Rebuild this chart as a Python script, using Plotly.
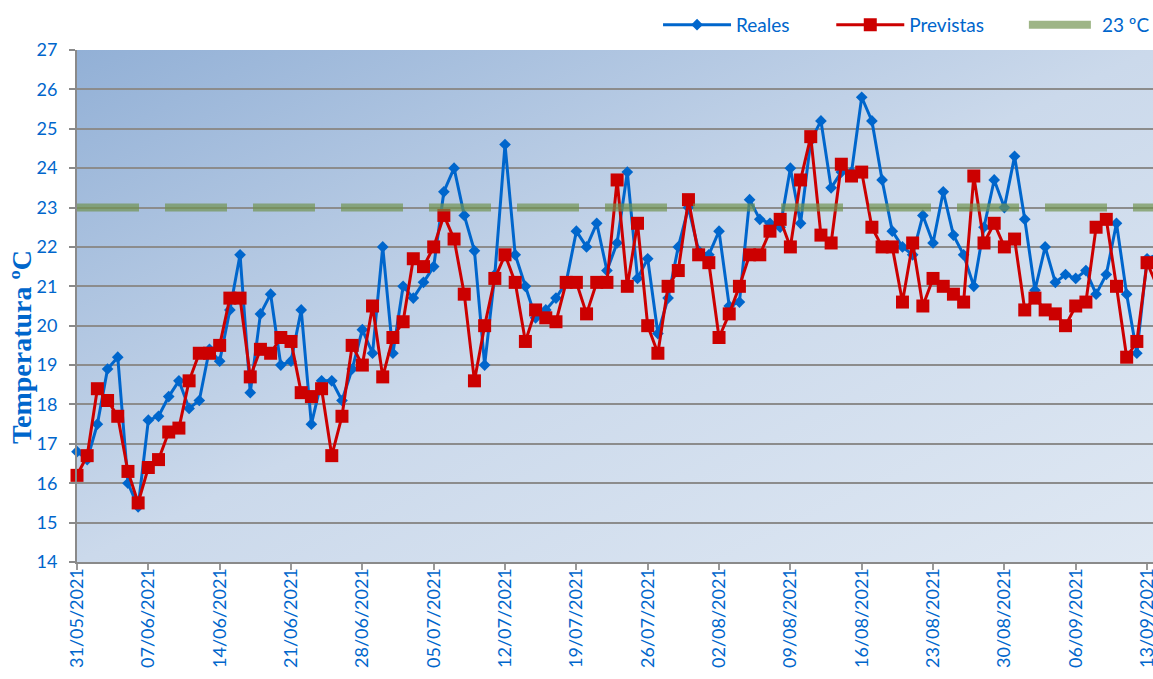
import base64
import pandas as pd
import plotly.graph_objects as go

# ---------------- data ----------------
start_date = "2021-05-31"
reales = [16.8, 16.6, 17.5, 18.9, 19.2, 16.0, 15.4, 17.6, 17.7, 18.2,
          18.6, 17.9, 18.1, 19.4, 19.1, 20.4, 21.8, 18.3, 20.3, 20.8,
          19.0, 19.1, 20.4, 17.5, 18.6, 18.6, 18.1, 18.9, 19.9, 19.3,
          22.0, 19.3, 21.0, 20.7, 21.1, 21.5, 23.4, 24.0, 22.8, 21.9,
          19.0, 21.3, 24.6, 21.8, 21.0, 20.2, 20.4, 20.7, 21.1, 22.4,
          22.0, 22.6, 21.4, 22.1, 23.9, 21.2, 21.7, 19.8, 20.7, 22.0,
          23.0, 21.9, 21.8, 22.4, 20.5, 20.6, 23.2, 22.7, 22.6, 22.5,
          24.0, 22.6, 24.7, 25.2, 23.5, 23.9, 23.9, 25.8, 25.2, 23.7,
          22.4, 22.0, 21.8, 22.8, 22.1, 23.4, 22.3, 21.8, 21.0, 22.5,
          23.7, 23.0, 24.3, 22.7, 20.9, 22.0, 21.1, 21.3, 21.2, 21.4,
          20.8, 21.3, 22.6, 20.8, 19.3, 21.7, 21.8]
previstas = [16.2, 16.7, 18.4, 18.1, 17.7, 16.3, 15.5, 16.4, 16.6, 17.3,
             17.4, 18.6, 19.3, 19.3, 19.5, 20.7, 20.7, 18.7, 19.4, 19.3,
             19.7, 19.6, 18.3, 18.2, 18.4, 16.7, 17.7, 19.5, 19.0, 20.5,
             18.7, 19.7, 20.1, 21.7, 21.5, 22.0, 22.8, 22.2, 20.8, 18.6,
             20.0, 21.2, 21.8, 21.1, 19.6, 20.4, 20.2, 20.1, 21.1, 21.1,
             20.3, 21.1, 21.1, 23.7, 21.0, 22.6, 20.0, 19.3, 21.0, 21.4,
             23.2, 21.8, 21.6, 19.7, 20.3, 21.0, 21.8, 21.8, 22.4, 22.7,
             22.0, 23.7, 24.8, 22.3, 22.1, 24.1, 23.8, 23.9, 22.5, 22.0,
             22.0, 20.6, 22.1, 20.5, 21.2, 21.0, 20.8, 20.6, 23.8, 22.1,
             22.6, 22.0, 22.2, 20.4, 20.7, 20.4, 20.3, 20.0, 20.5, 20.6,
             22.5, 22.7, 21.0, 19.2, 19.6, 21.6, 21.0]
threshold = 23
dates = pd.date_range(start_date, periods=len(reales), freq="D")
umbral = [threshold] * len(dates)
tick_dates = dates[::7]

x_end = "2021-09-13 14:00"
y_title = "Temperatura ºC"

BLUE = "#0066CC"
RED = "#CC0000"
GREEN = "rgba(112,146,76,0.68)"
FONT = "Lato"

# ---------------- gradient background (svg) ----------------
svg = (
    '<svg xmlns="http://www.w3.org/2000/svg" width="200" height="100" '
    'viewBox="0 0 200 100" preserveAspectRatio="none">'
    '<defs><linearGradient id="g" x1="0" y1="0" x2="1" y2="1">'
    '<stop offset="0" stop-color="#92b0d6"/>'
    '<stop offset="0.5" stop-color="#cbd9eb"/>'
    '<stop offset="1" stop-color="#dfe8f3"/>'
    '</linearGradient></defs>'
    '<rect x="0" y="0" width="200" height="100" fill="url(#g)"/></svg>'
)
svg_uri = "data:image/svg+xml;base64," + base64.b64encode(svg.encode()).decode()

fig = go.Figure()
fig.add_trace(go.Scatter(
    x=dates, y=reales, name="Reales", mode="lines+markers",
    line=dict(color=BLUE, width=3),
    marker=dict(symbol="diamond", size=9, color=BLUE),
    cliponaxis=False, legend="legend",
))
fig.add_trace(go.Scatter(
    x=dates, y=previstas, name="Previstas", mode="lines+markers",
    line=dict(color=RED, width=3),
    marker=dict(symbol="square", size=13, color=RED),
    cliponaxis=False, legend="legend2",
))
fig.add_trace(go.Scatter(
    x=dates, y=umbral, name="23 ºC", mode="lines",
    line=dict(color=GREEN, width=8, dash="62px,26px"),
    legend="legend3",
))

leg_common = dict(orientation="h", y=1.012, yanchor="bottom", xanchor="left",
                  font=dict(family=FONT, size=19, color=BLUE),
                  bgcolor="rgba(0,0,0,0)", itemwidth=68)

fig.update_layout(
    width=1153, height=679,
    margin=dict(l=77, r=0, t=50, b=117, autoexpand=False),
    paper_bgcolor="white",
    plot_bgcolor="rgba(0,0,0,0)",
    font=dict(family=FONT, size=18, color=BLUE),
    images=[dict(source=svg_uri, xref="paper", yref="paper", x=0, y=1,
                 sizex=1, sizey=1, xanchor="left", yanchor="top",
                 sizing="stretch", layer="below")],
    legend=dict(x=0.540, **leg_common),
    legend2=dict(x=0.701, **leg_common),
    legend3=dict(x=0.880, **leg_common),
    showlegend=True,
    annotations=[dict(text=y_title, xref="paper", yref="paper",
                      x=-0.051, y=0.42, xanchor="center", yanchor="middle",
                      textangle=-90, showarrow=False,
                      font=dict(family="Liberation Serif", size=28, color=BLUE,
                                weight="bold"))],
)
fig.update_xaxes(
    type="date", range=[start_date, x_end],
    tickvals=tick_dates, tickformat="%d/%m/%Y",
    tickangle=-90, ticks="outside", ticklen=6, tickcolor="#9a9a9a", tickwidth=2,
    ticklabelstandoff=-9, ticklabeloverflow="allow", automargin=False,
    showline=True, linecolor="#8a8a8a", linewidth=2,
    showgrid=False, zeroline=False,
    tickfont=dict(family=FONT, size=18, color=BLUE),
)
fig.update_yaxes(
    range=[14, 27], dtick=1, tick0=14, automargin=False,
    ticks="outside", ticklen=6, tickcolor="#8a8a8a", tickwidth=2,
    ticklabelstandoff=8,
    showline=True, linecolor="#8a8a8a", linewidth=2,
    showgrid=True, gridcolor="#8c8c8c", gridwidth=1.5,
    zeroline=False,
    tickfont=dict(family=FONT, size=18, color=BLUE),
)

fig.write_html(
    "out.html",
    config={"displayModeBar": False},
    post_script="document.body.style.margin='0';document.body.style.overflow='hidden';",
)
